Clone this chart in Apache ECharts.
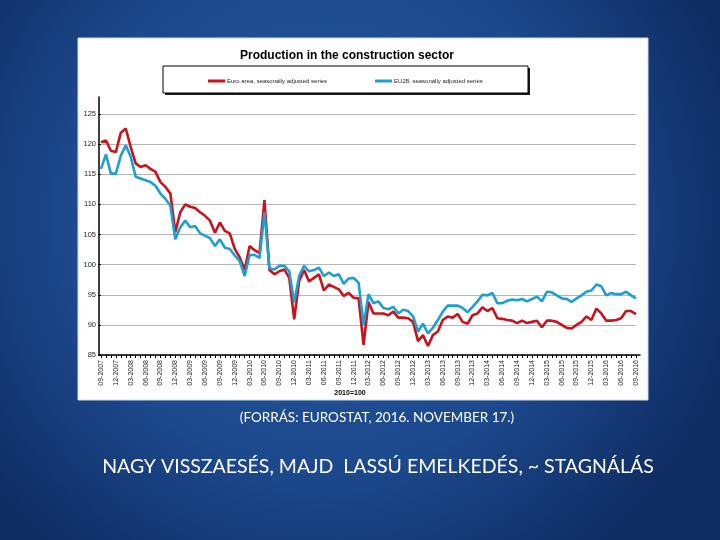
<!DOCTYPE html>
<html>
<head>
<meta charset="utf-8">
<script src="https://cdn.jsdelivr.net/npm/echarts@6/dist/echarts.min.js"></script>
<style>
html,body{margin:0;padding:0;background:#173f80;}
#chart{width:720px;height:540px;}
</style>
</head>
<body>
<div id="chart"></div>
<script>
// Monthly labels 09-2007 .. 09-2016
var startYear = 2007, startMonth = 9, monthCount = 109;
var categories = [];
for (var k = 0; k < monthCount; k++) {
  var m = (startMonth - 1 + k) % 12 + 1;
  var y = startYear + Math.floor((startMonth - 1 + k) / 12);
  categories.push((m < 10 ? '0' + m : '' + m) + '-' + y);
}

var seriesNames = ['Euro area, seasonally adjusted series', 'EU28, seasonally adjusted series'];

var euroArea = [
  120.3,120.6,118.9,118.7,121.9,122.6,119.5,116.8,116.2,116.5,
  115.9,115.4,113.7,112.9,111.8,105.4,108.7,110.0,109.6,109.4,
  108.7,108.1,107.3,105.3,107.0,105.6,105.2,102.6,101.2,99.1,
  103.1,102.4,101.9,110.7,99.1,98.4,98.9,99.2,97.8,90.9,
  97.3,99.1,97.2,97.8,98.4,95.7,96.7,96.3,95.9,94.8,
  95.3,94.5,94.4,86.7,93.8,91.9,91.9,91.9,91.6,92.2,
  91.2,91.2,91.1,90.5,87.3,88.3,86.5,88.3,88.9,90.8,
  91.4,91.2,91.8,90.5,90.2,91.6,91.9,92.9,92.3,92.8,
  91.1,91.0,90.8,90.7,90.3,90.7,90.3,90.5,90.7,89.6,
  90.7,90.7,90.5,90.0,89.5,89.4,90.0,90.5,91.4,90.8,
  92.7,91.9,90.7,90.7,90.8,91.1,92.3,92.3,91.8
];

var eu28 = [
  115.9,118.3,115.1,115.1,118.1,119.8,117.9,114.6,114.3,114.0,
  113.7,113.1,111.8,110.9,109.8,104.2,106.2,107.3,106.2,106.4,
  105.2,104.8,104.4,103.1,104.2,102.8,102.6,101.5,100.6,98.1,
  101.6,101.6,101.1,108.7,99.4,99.2,99.8,99.8,98.9,93.7,
  98.1,99.8,98.9,99.1,99.5,98.1,98.7,98.1,98.4,96.8,
  97.7,97.8,97.0,90.0,95.1,93.6,93.9,92.8,92.6,93.0,
  91.9,92.5,92.3,91.4,88.9,90.2,88.6,89.5,90.8,92.2,
  93.2,93.2,93.2,92.8,92.1,93.0,93.9,95.0,94.9,95.3,
  93.6,93.6,94.0,94.2,94.1,94.3,93.9,94.3,94.7,93.9,
  95.5,95.4,94.9,94.4,94.3,93.8,94.4,94.9,95.5,95.7,
  96.7,96.4,94.9,95.3,95.1,95.1,95.5,94.9,94.4
];

var yMin = 85, yMax = 125, yStep = 5;

var chart = echarts.init(document.getElementById('chart'));
chart.setOption({
  backgroundColor: {
    type: 'radial', x: 0.45, y: 0.4, r: 0.8,
    colorStops: [
      {offset: 0, color: '#285aa2'},
      {offset: 0.6, color: '#1c488c'},
      {offset: 1, color: '#0f2c62'}
    ]
  },
  animation: false,
  graphic: [
    {type: 'rect', z: 0, shape: {x: 78, y: 38, width: 570, height: 362},
     style: {fill: '#ffffff', stroke: '#c9dcee', lineWidth: 1}},
    {type: 'text', z: 1, x: 347, y: 56,
     style: {text: 'Production in the construction sector', fill: '#000',
       font: 'bold 12px "Liberation Sans", Arial, sans-serif', textAlign: 'center', textVerticalAlign: 'middle'}},
    {type: 'rect', z: 1, shape: {x: 165, y: 68, width: 365, height: 27},
     style: {fill: '#1a1a1a'}},
    {type: 'rect', z: 1, shape: {x: 163, y: 66, width: 365, height: 27},
     style: {fill: '#ffffff', stroke: '#000', lineWidth: 1}},
    {type: 'text', z: 1, x: 350, y: 393,
     style: {text: '2010=100', fill: '#000',
       font: 'bold 7px "Liberation Sans", Arial, sans-serif', textAlign: 'center', textVerticalAlign: 'middle'}},
    {type: 'text', z: 1, x: 377, y: 418,
     style: {text: '(FORRÁS: EUROSTAT, 2016. NOVEMBER 17.)', fill: '#ffffff',
       font: '13.5px Lato, "Open Sans", sans-serif', textAlign: 'center', textVerticalAlign: 'middle'}},
    {type: 'text', z: 1, x: 378, y: 467,
     style: {text: 'NAGY VISSZAESÉS, MAJD  LASSÚ EMELKEDÉS, ~ STAGNÁLÁS', fill: '#ffffff',
       font: '19.5px Lato, "Open Sans", sans-serif', textAlign: 'center', textVerticalAlign: 'middle'}}
  ],
  legend: {
    left: 208, top: 78, itemWidth: 17, itemHeight: 3, itemGap: 48, icon: 'rect',
    padding: 0,
    textStyle: {fontSize: 6, color: '#222', fontFamily: '"Liberation Sans Narrow", "Liberation Sans", Arial, sans-serif', padding: [0, 0, 0, -3]},
    data: seriesNames
  },
  grid: [
    {left: 101, right: 84, top: 114, bottom: 185, containLabel: false},
    {left: 99, right: 80, top: 97, bottom: 185, containLabel: false}
  ],
  xAxis: [
    {type: 'category', gridIndex: 0, data: categories, boundaryGap: false,
     axisLine: {show: false},
     axisTick: {show: true, interval: 0, length: 3, lineStyle: {color: '#000', width: 1}},
     axisLabel: {interval: 2, rotate: 90, fontSize: 7, color: '#222', margin: 5,
       fontFamily: '"Liberation Sans", Arial, sans-serif'},
     splitLine: {show: false}},
    {type: 'value', gridIndex: 1, min: 0, max: 1,
     axisLine: {show: true, lineStyle: {color: '#000', width: 1.5}},
     axisTick: {show: false}, axisLabel: {show: false}, splitLine: {show: false}}
  ],
  yAxis: [
    {type: 'value', gridIndex: 0, min: yMin, max: yMax, interval: yStep,
     axisLine: {show: false},
     axisTick: {show: true, length: 3, lineStyle: {color: '#000'}},
     axisLabel: {fontSize: 7.5, color: '#222', margin: 5, fontFamily: '"Liberation Sans", Arial, sans-serif'},
     splitLine: {show: true, lineStyle: {color: '#b5b5b5', width: 1.2}}},
    {type: 'value', gridIndex: 1, min: 0, max: 1,
     axisLine: {show: true, lineStyle: {color: '#000', width: 1.5}},
     axisTick: {show: false}, axisLabel: {show: false}, splitLine: {show: false}}
  ],
  series: [
    {name: seriesNames[0], type: 'line', xAxisIndex: 0, yAxisIndex: 0, data: euroArea,
     showSymbol: false, symbol: 'none', color: '#c8121c',
     lineStyle: {color: '#c8121c', width: 2.6}},
    {name: seriesNames[1], type: 'line', xAxisIndex: 0, yAxisIndex: 0, data: eu28,
     showSymbol: false, symbol: 'none', color: '#1e9fd0',
     lineStyle: {color: '#1e9fd0', width: 2.6}}
  ]
});
</script>
</body>
</html>
